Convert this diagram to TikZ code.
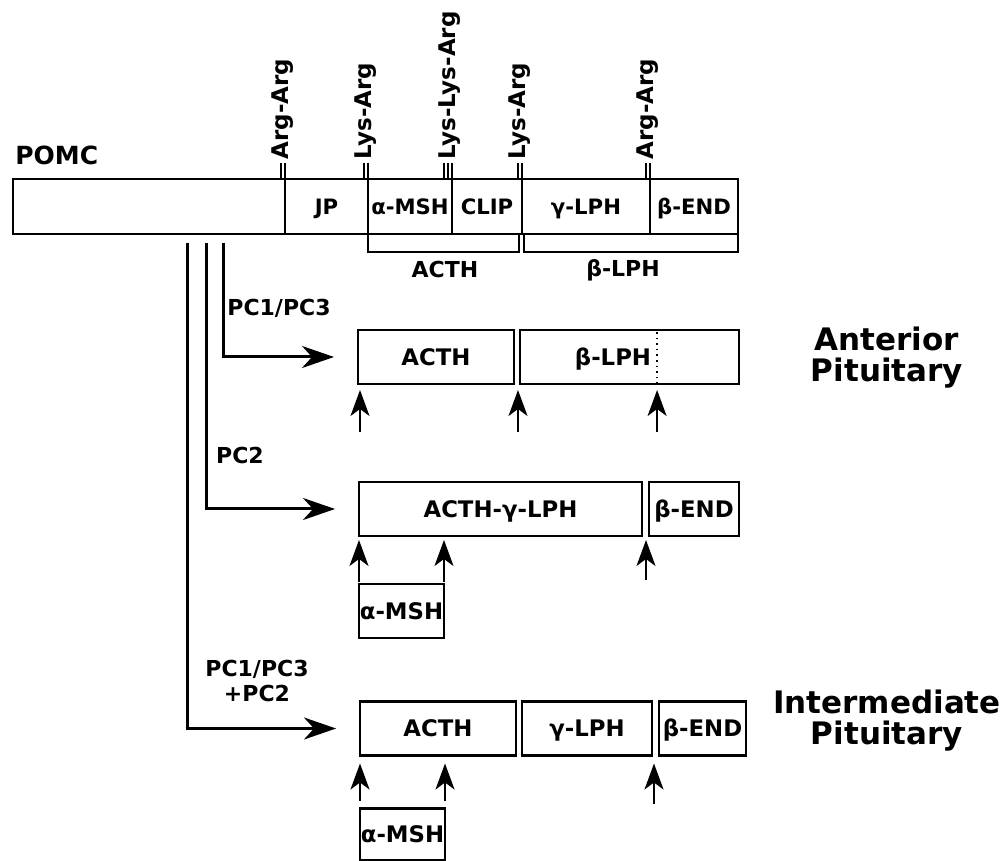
\documentclass[tikz,border=0pt]{standalone}
\usepackage{fontspec}
\setmainfont{DejaVu Sans}
\usetikzlibrary{arrows.meta,positioning}

\begin{document}
\begin{tikzpicture}[
    x=0.5pt, y=-0.5pt,
    seg/.style={rectangle, draw, line width=0.6pt, minimum height=27.5pt, inner sep=0pt, outer sep=0pt,
                text height=7.7pt, text depth=0pt, font=\bfseries\fontsize{10.6}{12}\selectfont},
    pbox/.style={rectangle, draw, line width=1.2pt, minimum height=27pt, inner sep=0pt, outer sep=0pt,
                 text height=8.3pt, text depth=0pt, font=\bfseries\fontsize{11.4}{12}\selectfont},
    site/.style={rotate=90, anchor=west, inner sep=0pt, font=\bfseries\fontsize{11.5}{13}\selectfont},
    lbl/.style={inner sep=0pt, align=center, font=\bfseries\fontsize{11}{12.5}\selectfont},
    tissue/.style={inner sep=0pt, align=center, font=\bfseries\fontsize{15.5}{15.5}\selectfont},
    harr/.style={-{Stealth[length=16pt, width=11pt, inset=5pt]}, line width=1.5pt, shorten >=12pt},
    uparr/.style={-{Stealth[length=13pt, width=9.5pt, inset=3.5pt]}, line width=0.8pt},
    brk/.style={line width=1pt}
]
\useasboundingbox (0,0) rectangle (1003,861);

% precursor
\node[anchor=west, inner sep=0pt, font=\bfseries\fontsize{12.5}{14}\selectfont] (pomc) at (15,155) {POMC};
\node[seg, minimum width=136pt] (nterm) at (149,206.5) {};
\node[seg, minimum width=41.5pt, right=0pt of nterm] (jp) {JP};
\node[seg, minimum width=42pt, right=0pt of jp] (amsh) {α-MSH};
\node[seg, minimum width=35pt, right=0pt of amsh] (clip) {CLIP};
\node[seg, minimum width=64pt, right=0pt of clip] (glph) {γ-LPH};
\node[seg, minimum width=44pt, right=0pt of glph] (bend) {β-END};
\draw[line width=1.4pt] (nterm.north west) rectangle (bend.south east);

% cleavage sites
\foreach \s/\t in {jp/Arg-Arg, amsh/Lys-Arg, clip/Lys-Lys-Arg, glph/Lys-Arg, bend/Arg-Arg}
  \node[site] (site-\s) at ([xshift=-1pt, yshift=9.5pt]\s.north west) {\t};
\foreach \s/\n in {jp/2, amsh/2, clip/3, glph/2, bend/2}
  \foreach \k in {1,...,\n}
    \draw[line width=0.6pt] ([xshift={(1-\k)*2pt}]\s.north west) -- ([xshift={(1-\k)*2pt}, yshift=8pt]\s.north west);

\draw[brk] (amsh.south west) -- ++(0,18) -| ([xshift=-1.5pt]clip.south east);
\draw[brk] ([xshift=1pt]glph.south west) -- ++(0,18) -| (bend.south east);
\node[lbl] (acthlbl) at (445,269) {ACTH};
\node[lbl] (blphlbl) at (623,270) {β-LPH};

\coordinate (stemA) at (223,243);
\coordinate (stemB) at (206,243);
\coordinate (stemC) at (187,243);

% anterior lobe
\node[pbox, minimum width=78pt] (acthA) at (436,357) {ACTH};
\node[pbox, minimum width=109.5pt, right=3pt of acthA] (blphA) {};
\node[lbl, text height=8.3pt, text depth=0pt, font=\bfseries\fontsize{11.4}{12}\selectfont] (blphAtxt) at (613,357) {β-LPH};
\coordinate (cutA) at ([xshift=13.8pt]blphA.south);
\draw[dotted, line width=0.8pt] (cutA) -- (cutA |- blphA.north);
\draw[harr] (stemA) |- (acthA.west);
\node[lbl] (pcA) at (279,308) {PC1/PC3};
\draw[uparr] ([xshift=1pt, yshift=-24pt]acthA.south west) -- ([xshift=1pt, yshift=-3pt]acthA.south west);
\draw[uparr] ([xshift=2pt, yshift=-24pt]acthA.south east) -- ([xshift=2pt, yshift=-3pt]acthA.south east);
\draw[uparr] ([yshift=-24pt]cutA) -- ([yshift=-3pt]cutA);
\node[tissue] (ant) at (887,358) {Anterior\\Pituitary};

% PC2 alone
\node[pbox, minimum width=141.5pt] (acthglph) at (500.5,509) {ACTH-γ-LPH};
\node[pbox, minimum width=45pt, right=3.5pt of acthglph] (bendB) {β-END};
\node[pbox, minimum width=42.5pt, below right=24pt and 0pt of acthglph.south west] (amshB) {α-MSH};
\draw[harr] (stemB) |- (acthglph.west);
\node[lbl] (pcB) at (240,455) {PC2};
\draw[uparr, shorten >=2pt, shorten <=1pt] (amshB.north west) -- (amshB.north west |- acthglph.south);
\draw[uparr, shorten >=2pt, shorten <=1pt] (amshB.north east) -- (amshB.north east |- acthglph.south);
\draw[uparr] ([xshift=2pt, yshift=-22pt]acthglph.south east) -- ([xshift=2pt, yshift=-2pt]acthglph.south east);

% intermediate lobe
\node[pbox, minimum width=78pt] (acthC) at (438,728.5) {ACTH};
\node[pbox, minimum width=65pt, right=3pt of acthC] (glphC) {γ-LPH};
\node[pbox, minimum width=43.5pt, right=3.5pt of glphC] (bendC) {β-END};
\node[pbox, minimum width=42.5pt, minimum height=26pt, below right=26.5pt and 0pt of acthC.south west] (amshC) {α-MSH};
\draw[harr] (stemC) |- (acthC.west);
\node[lbl] (pcC) at (257,681) {PC1/PC3\\+PC2};
\draw[uparr, shorten >=4pt, shorten <=4pt] (amshC.north west) -- (amshC.north west |- acthC.south);
\draw[uparr, shorten >=4pt, shorten <=4pt] (amshC.north east) -- (amshC.north east |- acthC.south);
\draw[uparr] ([xshift=1pt, yshift=-24pt]glphC.south east) -- ([xshift=1pt, yshift=-4pt]glphC.south east);
\node[tissue] (inter) at (887,721) {Intermediate\\Pituitary};
\end{tikzpicture}
\end{document}
